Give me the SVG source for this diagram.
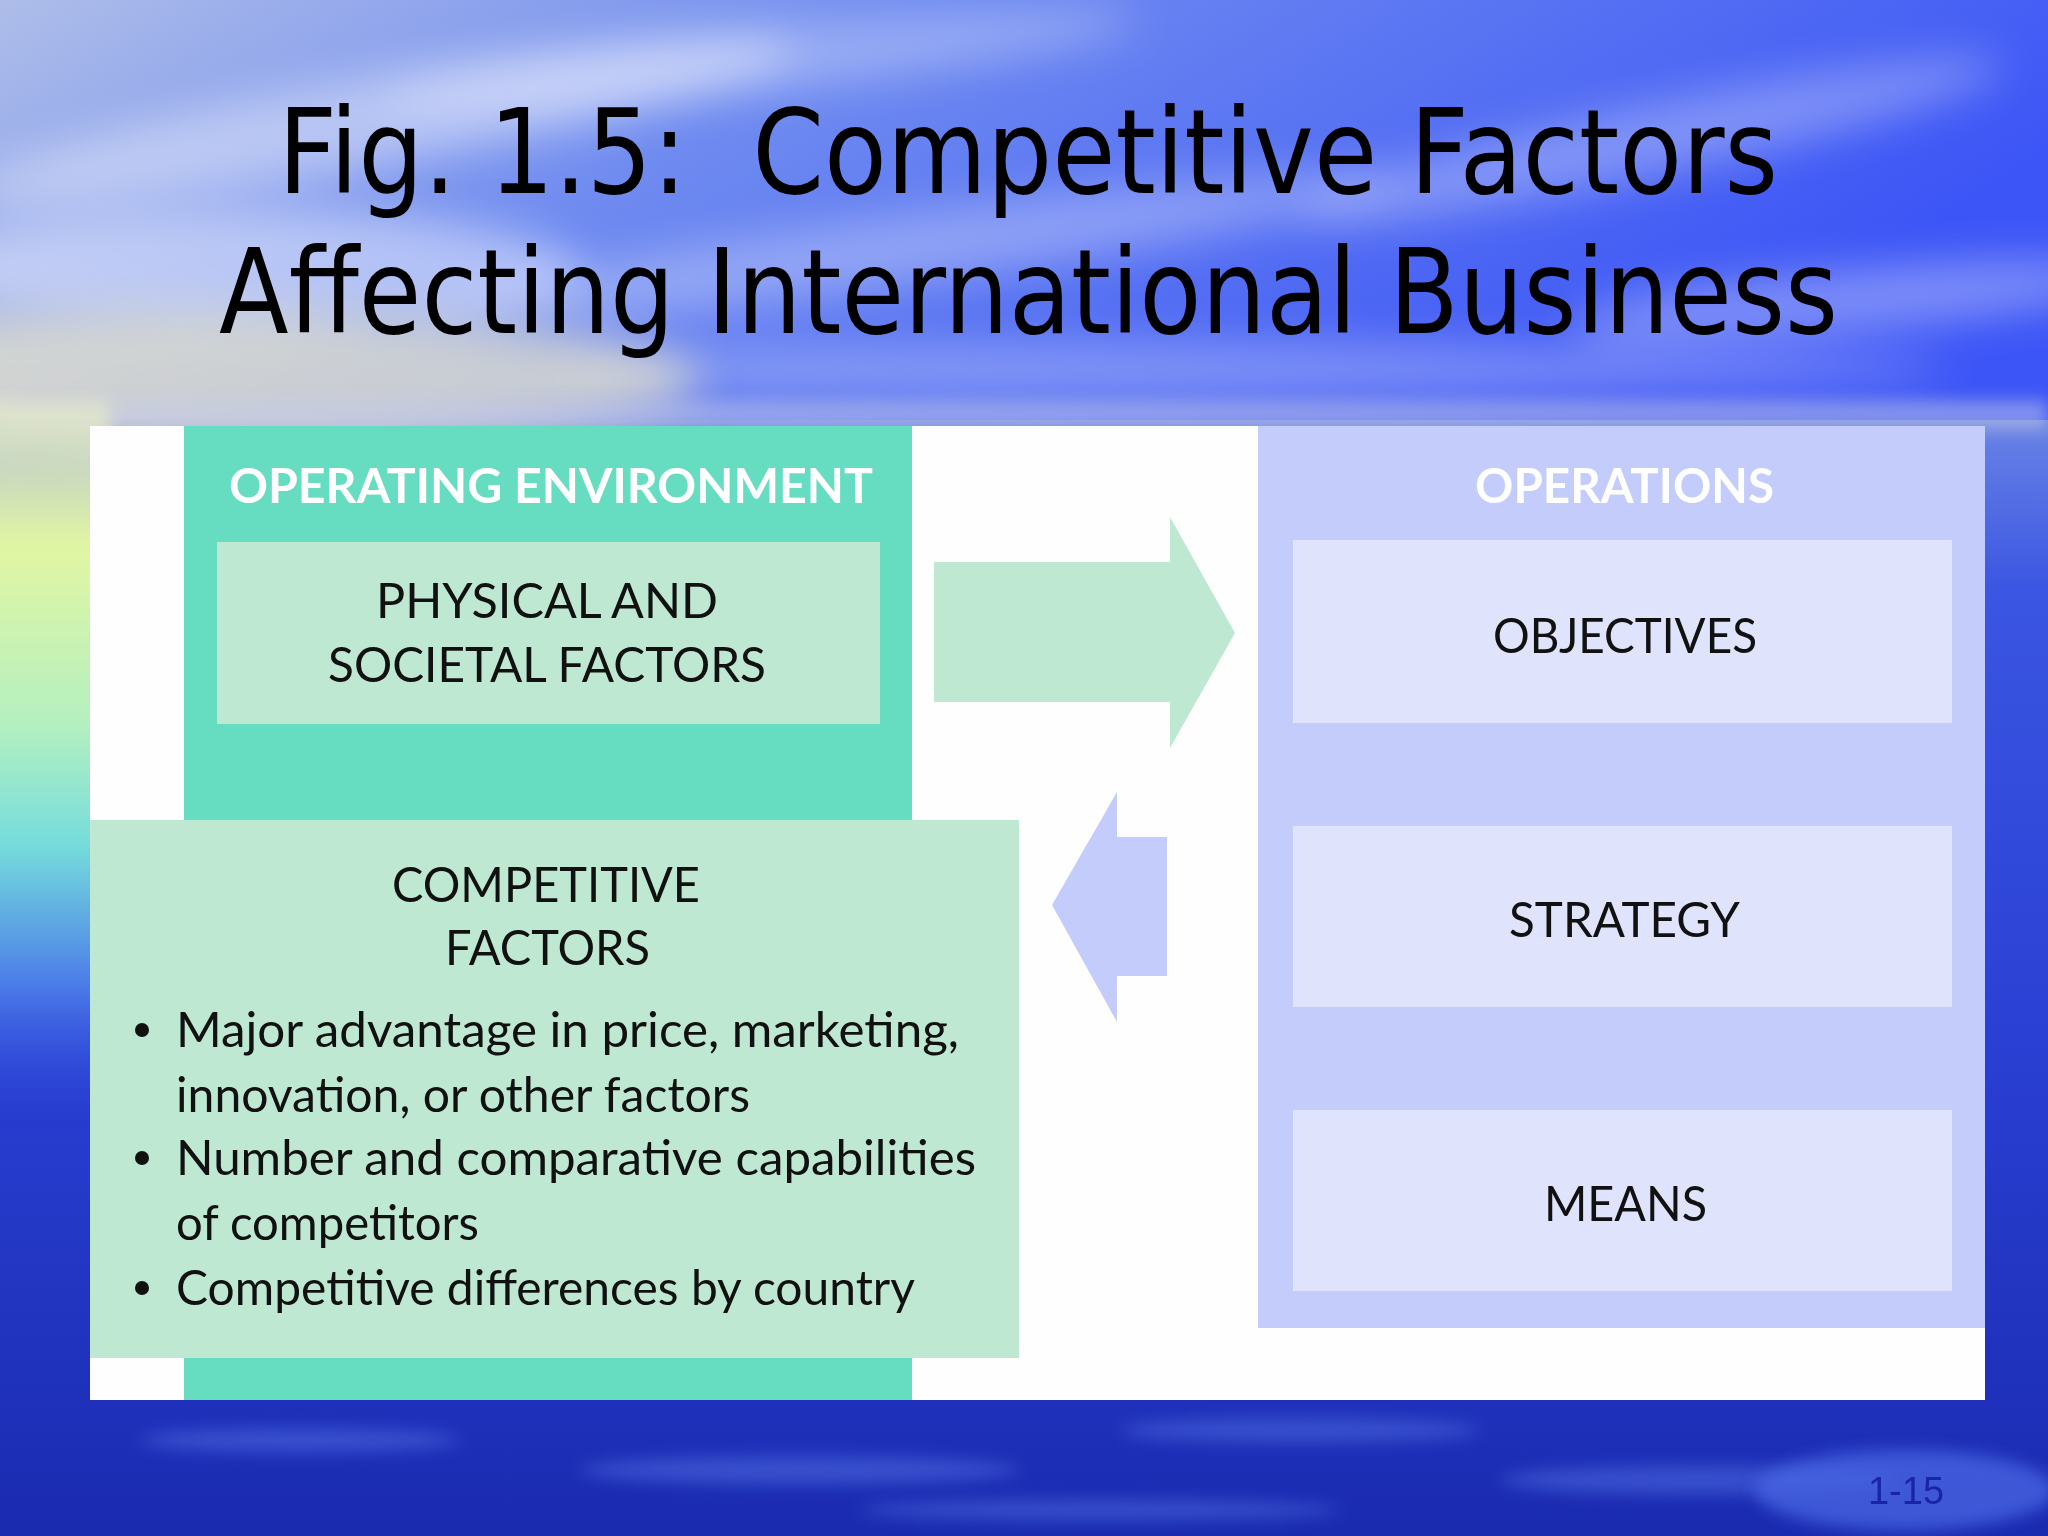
<svg xmlns="http://www.w3.org/2000/svg" width="2048" height="1536" viewBox="0 0 2048 1536">
<defs>
<style>
.title{font-family:"DejaVu Sans",Verdana,sans-serif;font-size:118px;fill:#000;}
.hdr{font-family:Lato,"Open Sans",sans-serif;font-size:48px;font-weight:bold;fill:#ffffff;}
.lbl{font-family:Lato,"Open Sans",sans-serif;font-size:48px;fill:#111111;}
.teal{fill:#66DCC0;}
.mint{fill:#BEE8D2;}
.lav{fill:#C3CCFB;}
.pale{fill:#DFE4FC;}
.page{font-family:"Liberation Sans",Arial,sans-serif;font-size:38px;fill:#1a24a6;}
</style>
<linearGradient id="sky" x1="0" y1="0" x2="1" y2="0.35">
<stop offset="0" stop-color="#aebde9"/>
<stop offset="0.4" stop-color="#6f8bf0"/>
<stop offset="1" stop-color="#3c55f6"/>
</linearGradient>
<linearGradient id="sea" x1="0" y1="0" x2="0" y2="1">
<stop offset="0" stop-color="#6a84e6"/>
<stop offset="0.15" stop-color="#3b56e2"/>
<stop offset="0.55" stop-color="#2a40d4"/>
<stop offset="1" stop-color="#1a2bb0"/>
</linearGradient>
<linearGradient id="leftglow" x1="0" y1="0" x2="0" y2="1">
<stop offset="0" stop-color="#e8ecc8" stop-opacity="0.6"/>
<stop offset="0.2" stop-color="#e2f6a2"/>
<stop offset="0.45" stop-color="#b4f0c0"/>
<stop offset="0.62" stop-color="#74dcdc"/>
<stop offset="0.82" stop-color="#4a78e8"/>
<stop offset="1" stop-color="#3048dc" stop-opacity="0"/>
</linearGradient>
<filter id="blur" x="-50%" y="-50%" width="200%" height="200%"><feGaussianBlur stdDeviation="22"/></filter>
<filter id="blur2" x="-50%" y="-50%" width="200%" height="200%"><feGaussianBlur stdDeviation="8"/></filter>
</defs>

<g id="background">
<rect x="0" y="0" width="2048" height="440" fill="url(#sky)"/>
<rect x="0" y="420" width="2048" height="1116" fill="url(#sea)"/>
<g filter="url(#blur)" fill="#ffffff">
<ellipse cx="380" cy="120" rx="420" ry="45" opacity="0.4" transform="rotate(-10 380 120)"/>
<ellipse cx="760" cy="60" rx="380" ry="30" opacity="0.3" transform="rotate(-6 760 60)"/>
<ellipse cx="250" cy="270" rx="330" ry="60" opacity="0.45"/>
<ellipse cx="900" cy="250" rx="500" ry="35" opacity="0.3" transform="rotate(-8 900 250)"/>
<ellipse cx="1650" cy="140" rx="360" ry="35" opacity="0.3" transform="rotate(-12 1650 140)"/>
<ellipse cx="1850" cy="300" rx="280" ry="30" opacity="0.35" transform="rotate(-5 1850 300)"/>
<ellipse cx="1250" cy="370" rx="700" ry="25" opacity="0.3"/>
</g>
<ellipse cx="180" cy="380" rx="520" ry="70" fill="#f2ecc8" opacity="0.7" filter="url(#blur)"/>
<rect x="0" y="400" width="2048" height="30" fill="#c6cbe6" opacity="0.5" filter="url(#blur2)"/>
<rect x="-40" y="400" width="150" height="720" fill="url(#leftglow)" filter="url(#blur2)"/>
<g fill="#5a78ec" opacity="0.45" filter="url(#blur2)">
<ellipse cx="300" cy="1440" rx="160" ry="12"/>
<ellipse cx="800" cy="1470" rx="220" ry="14"/>
<ellipse cx="1300" cy="1430" rx="180" ry="12"/>
<ellipse cx="1700" cy="1480" rx="200" ry="14"/>
<ellipse cx="1100" cy="1510" rx="240" ry="10"/>
</g>
<ellipse cx="1905" cy="1490" rx="150" ry="40" fill="#4a66e4" opacity="0.75" filter="url(#blur2)"/>
</g>

<g id="title">
<text class="title" x="278" y="193" textLength="1500" lengthAdjust="spacingAndGlyphs">Fig. 1.5:&#160; Competitive Factors</text>
<text class="title" x="219" y="333" textLength="1619" lengthAdjust="spacingAndGlyphs">Affecting International Business</text>
</g>

<g id="figure-panel">
<rect x="90" y="426" width="1895" height="974" fill="#fefefe"/>
</g>

<g id="operating-environment">
<rect class="teal" x="184" y="426" width="728" height="974"/>
<text class="hdr" x="229" y="503" textLength="644" lengthAdjust="spacingAndGlyphs">OPERATING ENVIRONMENT</text>
</g>

<g id="physical-societal-factors">
<rect class="mint" x="217" y="542" width="663" height="182"/>
<text class="lbl" x="376" y="618" textLength="342" lengthAdjust="spacingAndGlyphs">PHYSICAL AND</text>
<text class="lbl" x="328" y="682" textLength="438" lengthAdjust="spacingAndGlyphs">SOCIETAL FACTORS</text>
</g>

<g id="competitive-factors">
<rect class="mint" x="90" y="820" width="929" height="538"/>
<text class="lbl" x="392" y="902" textLength="308" lengthAdjust="spacingAndGlyphs">COMPETITIVE</text>
<text class="lbl" x="445" y="965" textLength="205" lengthAdjust="spacingAndGlyphs">FACTORS</text>
<g fill="#111111">
<circle cx="142" cy="1030" r="7"/>
<circle cx="142" cy="1158" r="7"/>
<circle cx="142" cy="1288" r="7"/>
</g>
<text class="lbl" x="176" y="1047" textLength="783" lengthAdjust="spacingAndGlyphs">Major advantage in price, marketing,</text>
<text class="lbl" x="176" y="1112" textLength="574" lengthAdjust="spacingAndGlyphs">innovation, or other factors</text>
<text class="lbl" x="176" y="1175" textLength="800" lengthAdjust="spacingAndGlyphs">Number and comparative capabilities</text>
<text class="lbl" x="176" y="1240" textLength="303" lengthAdjust="spacingAndGlyphs">of competitors</text>
<text class="lbl" x="176" y="1305" textLength="739" lengthAdjust="spacingAndGlyphs">Competitive differences by country</text>
</g>

<g id="operations">
<rect class="lav" x="1258" y="426" width="727" height="902"/>
<text class="hdr" x="1475" y="503" textLength="299" lengthAdjust="spacingAndGlyphs">OPERATIONS</text>
</g>

<g id="objectives">
<rect class="pale" x="1293" y="540" width="659" height="183"/>
<text class="lbl" x="1493" y="653" textLength="264" lengthAdjust="spacingAndGlyphs">OBJECTIVES</text>
</g>

<g id="strategy">
<rect class="pale" x="1293" y="826" width="659" height="181"/>
<text class="lbl" x="1509" y="937" textLength="231" lengthAdjust="spacingAndGlyphs">STRATEGY</text>
</g>

<g id="means">
<rect class="pale" x="1293" y="1110" width="659" height="181"/>
<text class="lbl" x="1544" y="1221" textLength="163" lengthAdjust="spacingAndGlyphs">MEANS</text>
</g>

<g id="connectors">
<polygon class="mint" points="934,562 1170,562 1170,517 1235,633 1170,748 1170,702 934,702"/>
<polygon class="lav" points="1052,905 1117,792 1117,837 1167,837 1167,976 1117,976 1117,1022"/>
</g>

<text class="page" x="1868" y="1504" textLength="76" lengthAdjust="spacingAndGlyphs">1-15</text>
</svg>
